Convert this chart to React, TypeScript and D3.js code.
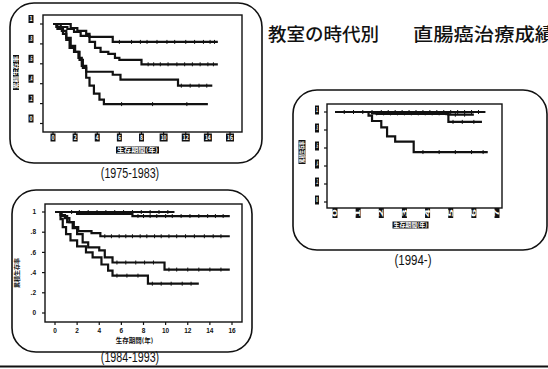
import React from 'react';
import * as d3 from 'd3';

// survival curves: [years, cumulative survival] at each step
// (1975-1983)
const curvesA1 = [[0, 1], [1.6, 0.96], [2.2, 0.93], [3.0, 0.9], [3.3, 0.87], [5.4, 0.82], [14.9, 0.82]];
const curvesA2 = [[0, 1], [0.7, 0.97], [1.3, 0.95], [1.9, 0.92], [2.5, 0.88], [3.3, 0.82], [3.8, 0.76], [4.3, 0.72], [5.0, 0.7], [5.6, 0.66], [6.0, 0.64], [8.0, 0.595], [14.9, 0.595]];
const curvesA3 = [[0, 1], [0.4, 0.95], [0.9, 0.9], [1.2, 0.84], [1.5, 0.76], [1.9, 0.72], [2.3, 0.66], [2.6, 0.58], [3.0, 0.52], [5.4, 0.49], [6.1, 0.44], [11.3, 0.38], [14.4, 0.38]];
const curvesA4 = [[0, 1], [0.3, 0.97], [0.8, 0.93], [1.2, 0.86], [1.6, 0.78], [2.0, 0.72], [2.4, 0.64], [2.7, 0.56], [3.0, 0.46], [3.3, 0.38], [3.7, 0.3], [4.2, 0.24], [4.6, 0.195], [14.0, 0.195]];
const censorA1 = [6.0, 7.1, 7.9, 8.5, 9.4, 10.3, 11.0, 12.0, 12.8, 13.6, 14.2, 14.6];
const censorA2 = [8.6, 9.1, 9.7, 10.4, 11.2, 11.9, 12.6, 13.3, 14.0, 14.5];
const censorA3 = [11.6, 12.4, 13.2, 13.9];
const censorA4 = [6.2, 9.0, 12.1];

// (1984-1993)
const curvesB1 = [[0, 1], [10.8, 1]];
const curvesB2 = [[0, 1], [2.0, 0.98], [7.0, 0.96], [15.8, 0.96]];
const curvesB3 = [[0, 1], [0.5, 0.97], [0.9, 0.94], [1.3, 0.9], [1.7, 0.85], [2.1, 0.81], [3.3, 0.79], [4.1, 0.76], [15.8, 0.76]];
const curvesB4 = [[0, 1], [0.6, 0.96], [1.1, 0.9], [1.6, 0.84], [2.0, 0.78], [2.5, 0.7], [3.0, 0.65], [4.0, 0.62], [4.5, 0.55], [5.2, 0.5], [9.9, 0.43], [15.8, 0.43]];
const curvesB5 = [[0, 1], [0.5, 0.93], [0.7, 0.85], [1.0, 0.78], [1.4, 0.72], [2.0, 0.66], [2.8, 0.6], [3.4, 0.55], [4.2, 0.48], [4.8, 0.42], [5.2, 0.37], [8.4, 0.29], [13.0, 0.29]];
const censorB1 = [1.5, 2.2, 3.0, 3.8, 4.6, 5.4, 6.2, 7.0, 7.8, 8.6, 9.4, 10.2];
const censorB2 = [7.5, 8.0, 8.6, 9.2, 10.0, 10.6, 11.4, 12.2, 13.0, 13.8, 14.5, 15.2];
const censorB3 = [4.5, 5.1, 5.8, 6.4, 7.0, 7.7, 8.3, 9.0, 9.6, 10.3, 11.0, 11.8, 12.6, 13.5, 14.3, 15.0];
const censorB4 = [5.6, 6.4, 7.3, 8.1, 8.9, 10.3, 11.0, 12.0, 13.0, 14.0, 15.0];
const censorB5 = [5.6, 6.5, 7.5, 8.8, 9.6, 10.5, 11.5, 12.3];

// (1994-)
const curvesC1 = [[0, 1], [6.5, 1]];
const curvesC2 = [[0, 1], [1.6, 0.985], [4.9, 0.97], [6.0, 0.97]];
const curvesC3 = [[0, 1], [1.8, 0.98], [4.9, 0.89], [6.35, 0.89]];
const curvesC4 = [[0, 1], [1.45, 0.96], [1.6, 0.9], [2.0, 0.83], [2.25, 0.73], [2.6, 0.67], [3.4, 0.555], [6.6, 0.555]];
const censorC1 = [0.4, 0.8, 1.2, 1.6, 2.0, 2.3, 2.6, 2.9, 3.2, 3.5, 3.8, 4.1, 4.4, 4.7, 5.0, 5.3, 5.6, 5.9, 6.2];
const censorC2 = [1.8, 2.1, 2.4, 2.7, 3.0, 3.3, 3.6, 3.9, 4.2, 4.5, 4.8, 5.2, 5.6];
const censorC3 = [5.1, 5.5, 6.0];
const censorC4 = [3.8, 4.5, 5.2, 5.9, 6.4];

const yTicks = [0, 0.2, 0.4, 0.6, 0.8, 1];
const yTickLabels = ['0', '.2', '.4', '.6', '.8', '1'];
const xTicksLong = [0, 2, 4, 6, 8, 10, 12, 14, 16];
const xTicksShort = [0, 1, 2, 3, 4, 5, 6, 7];

const titleLeft = '教室の時代別';
const titleRight = '直腸癌治療成績';
const yTitle = '累積生存率';
const xTitle = '生存期間(年)';

const stepAt = (c, t) => {
  let v = c[0][1];
  for (const p of c) if (p[0] <= t) v = p[1];
  return v;
};

// white text on a black block, like the scanned labels
const Block = ({ cx, cy, w, h, text, rotate = false, fs = 6 }) => (
  <g transform={`translate(${cx},${cy})${rotate ? ' rotate(-90)' : ''}`}>
    <rect x={-(rotate ? h : w) / 2} y={-(rotate ? w : h) / 2} width={rotate ? h : w} height={rotate ? w : h} fill="#111" />
    <text textAnchor="middle" dy="0.35em" fill="#fff" fontSize={fs} fontWeight="bold" fontFamily="Noto Sans CJK JP, sans-serif"
      textLength={(rotate ? h : w) - 2} lengthAdjust="spacingAndGlyphs">{text}</text>
  </g>
);

const Panel = ({ box, frame, xr, yr, xDomain, xTicks, curves, censors, caption, capX, capY, style }) => {
  const x = d3.scaleLinear().domain(xDomain).range(xr);
  const y = d3.scaleLinear().domain([0, 1]).range(yr);
  const line = d3.line().x((d) => x(d[0])).y((d) => y(d[1])).curve(d3.curveStepAfter);
  const [fx0, fy0, fx1, fy1] = frame;
  return (
    <g>
      <rect x={box[0]} y={box[1]} width={box[2] - box[0]} height={box[3] - box[1]} rx={24} ry={24}
        fill="none" stroke="#111" strokeWidth={1.6} />
      <rect x={fx0} y={fy0} width={fx1 - fx0} height={fy1 - fy0} fill="none" stroke="#111" strokeWidth={1.4} />
      {yTicks.map((t) => (
        <line key={'yt' + t} x1={fx0 - 3} x2={fx0} y1={y(t)} y2={y(t)} stroke="#111" strokeWidth={1.2} />
      ))}
      {xTicks.map((t) => (
        <line key={'xt' + t} x1={x(t)} x2={x(t)} y1={fy1} y2={fy1 + 3} stroke="#111" strokeWidth={1.2} />
      ))}
      {curves.map((c, i) => (
        <g key={'c' + i}>
          <path d={line(c)} fill="none" stroke="#111" strokeWidth={2.2} />
          {censors[i].map((t) => (
            <line key={t} x1={x(t)} x2={x(t)} y1={y(stepAt(c, t)) - 2} y2={y(stepAt(c, t)) + 2} stroke="#111" strokeWidth={1} />
          ))}
        </g>
      ))}
      {style === 'plain' ? (
        <g fontFamily="Liberation Sans, Arial, sans-serif" fontWeight="bold" fontSize={6.5} fill="#111">
          {yTicks.map((t, i) => (
            <text key={'yl' + t} x={fx0 - 9} y={y(t)} dy="0.35em" textAnchor="end">{yTickLabels[i]}</text>
          ))}
          {xTicks.map((t) => (
            <text key={'xl' + t} x={x(t)} y={fy1 + 9} dy="0.35em" textAnchor="middle">{t}</text>
          ))}
          <text x={(fx0 + fx1) / 2 - 9} y={fy1 + 21} textAnchor="middle" fontFamily="Noto Sans CJK JP, sans-serif" fontSize={6.5}>{xTitle}</text>
          <text transform={`translate(${box[0] + 5},${(fy0 + fy1) / 2 + 10}) rotate(-90)`} textAnchor="middle" dy="0.35em"
            fontFamily="Noto Sans CJK JP, sans-serif" fontSize={6}>{yTitle}</text>
        </g>
      ) : style === 'blockA' ? (
        <g>
          {yTicks.map((t, i) => (
            <Block key={'yl' + t} cx={fx0 - 12} cy={y(t) - 5} w={5} h={8} text={yTickLabels[i]} />
          ))}
          {xTicks.map((t) => (
            <Block key={'xl' + t} cx={x(t)} cy={fy1 + 5.5} w={String(t).length > 1 ? 8 : 5} h={8} text={String(t)} />
          ))}
          <Block cx={(fx0 + fx1) / 2 - 5} cy={fy1 + 18} w={43} h={7} text={xTitle} />
          <Block cx={box[0] + 6} cy={(fy0 + fy1) / 2 - 1} w={6} h={35} text={yTitle} rotate />
        </g>
      ) : (
        <g>
          {yTicks.map((t, i) => (
            <Block key={'yl' + t} cx={fx0 - 10} cy={y(t) - 2} w={4} h={9} text={yTickLabels[i]} />
          ))}
          {xTicks.map((t) => (
            <Block key={'xl' + t} cx={x(t)} cy={fy1 + 5} w={5} h={10} text={String(t)} rotate />
          ))}
          <Block cx={(fx0 + fx1) / 2 - 4} cy={fy1 + 17} w={36} h={7} text={xTitle} />
          <Block cx={box[0] + 9} cy={(fy0 + fy1) / 2 - 4} w={7} h={24} text={yTitle} rotate />
        </g>
      )}
      <text x={capX} y={capY} textAnchor="middle" fontFamily="Liberation Sans, Arial, sans-serif" fontSize={14}
        fill="#111" textLength={caption.length * 5.3} lengthAdjust="spacingAndGlyphs">{caption}</text>
    </g>
  );
};

export default function App() {
  return (
    <svg width={548} height={369} style={{ position: 'absolute', left: 0, top: 0, background: '#fff' }}>
      <rect width={548} height={369} fill="#fff" />
      <Panel box={[10, 3, 262, 163]} frame={[43, 15, 242, 132]} xr={[53, 230]} yr={[123.5, 24]}
        xDomain={[0, 16]} xTicks={xTicksLong}
        curves={[curvesA1, curvesA2, curvesA3, curvesA4]} censors={[censorA1, censorA2, censorA3, censorA4]}
        caption="(1975-1983)" capX={130} capY={178} style="blockA" />
      <Panel box={[12, 190, 252, 352]} frame={[45, 204, 242, 322]} xr={[55, 232]} yr={[313, 212]}
        xDomain={[0, 16]} xTicks={xTicksLong}
        curves={[curvesB1, curvesB2, curvesB3, curvesB4, curvesB5]} censors={[censorB1, censorB2, censorB3, censorB4, censorB5]}
        caption="(1984-1993)" capX={130} capY={362} style="plain" />
      <Panel box={[293, 90, 547, 250]} frame={[327, 104, 502, 208]} xr={[335, 497]} yr={[202, 112]}
        xDomain={[0, 7]} xTicks={xTicksShort}
        curves={[curvesC1, curvesC2, curvesC3, curvesC4]} censors={[censorC1, censorC2, censorC3, censorC4]}
        caption="(1994-)" capX={413} capY={265} style="blockC" />
      <g fontFamily="Noto Sans CJK JP, sans-serif" fontSize={18} fontWeight={500} fill="#111">
        <text x={268} y={41} textLength={111} lengthAdjust="spacingAndGlyphs">{titleLeft}</text>
        <text x={413} y={41} textLength={142} lengthAdjust="spacingAndGlyphs">{titleRight}</text>
      </g>
      <line x1={0} x2={548} y1={366.5} y2={366.5} stroke="#111" strokeWidth={2} />
    </svg>
  );
}
